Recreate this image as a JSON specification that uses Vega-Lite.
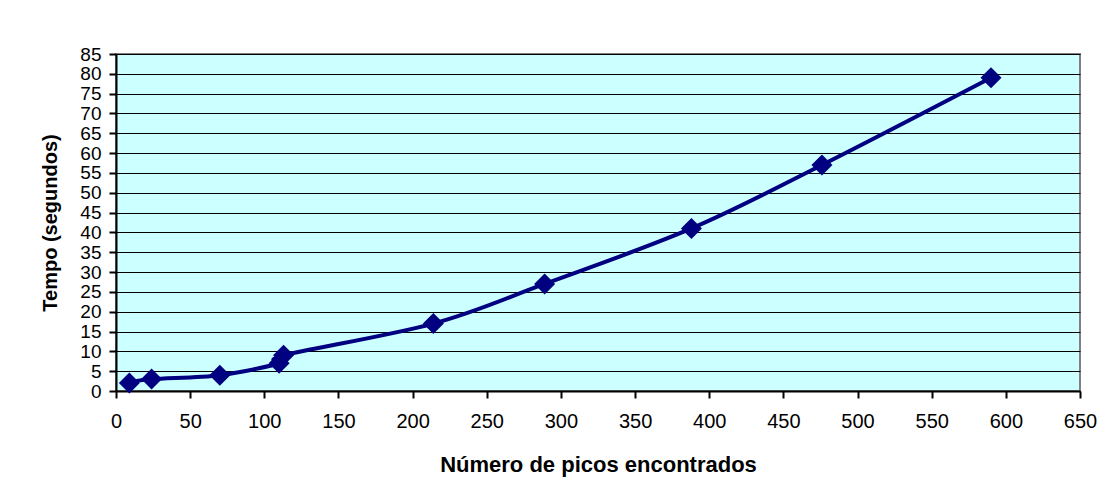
{
  "$schema": "https://vega.github.io/schema/vega-lite/v6.json",
  "autosize": "none",
  "width": 964,
  "height": 337,
  "padding": {"left": 116, "top": 54, "right": 29, "bottom": 111},
  "background": "#ffffff",
  "config": {
    "font": "Liberation Sans",
    "view": {"fill": "#ccffff", "stroke": "#808080", "strokeWidth": 2},
    "axis": {
      "domainColor": "#000000",
      "domainWidth": 2,
      "tickColor": "#000000",
      "tickWidth": 2,
      "tickSize": 7,
      "labelColor": "#000000",
      "labelFont": "Liberation Sans",
      "titleFont": "Liberation Sans",
      "titleColor": "#000000",
      "titleFontWeight": "bold",
      "labelOverlap": false,
      "labelBound": false,
      "labelFlush": false
    }
  },
  "data": {
    "values": [
      {"picos": 9, "tempo": 2},
      {"picos": 24, "tempo": 3},
      {"picos": 70, "tempo": 4},
      {"picos": 110, "tempo": 7},
      {"picos": 113, "tempo": 9},
      {"picos": 214, "tempo": 17},
      {"picos": 289, "tempo": 27},
      {"picos": 388, "tempo": 41},
      {"picos": 476, "tempo": 57},
      {"picos": 590, "tempo": 79}
    ]
  },
  "encoding": {
    "x": {
      "field": "picos",
      "type": "quantitative",
      "scale": {"domain": [0, 650], "nice": false, "zero": false},
      "axis": {
        "title": "Número de picos encontrados",
        "values": [0, 50, 100, 150, 200, 250, 300, 350, 400, 450, 500, 550, 600, 650],
        "grid": false,
        "labelFontSize": 20,
        "labelPadding": 13,
        "titleFontSize": 22,
        "titlePadding": 23
      }
    },
    "y": {
      "field": "tempo",
      "type": "quantitative",
      "scale": {"domain": [0, 85], "nice": false, "zero": false},
      "axis": {
        "title": "Tempo (segundos)",
        "values": [0, 5, 10, 15, 20, 25, 30, 35, 40, 45, 50, 55, 60, 65, 70, 75, 80, 85],
        "grid": true,
        "gridColor": "#000000",
        "gridWidth": 1,
        "labelFontSize": 19,
        "labelPadding": 8,
        "titleFontSize": 20,
        "titlePadding": 19
      }
    }
  },
  "layer": [
    {
      "mark": {"type": "line", "color": "#000080", "strokeWidth": 4, "interpolate": "cardinal"}
    },
    {
      "mark": {"type": "point", "shape": "diamond", "filled": true, "color": "#000080", "opacity": 1, "size": 440}
    }
  ]
}
